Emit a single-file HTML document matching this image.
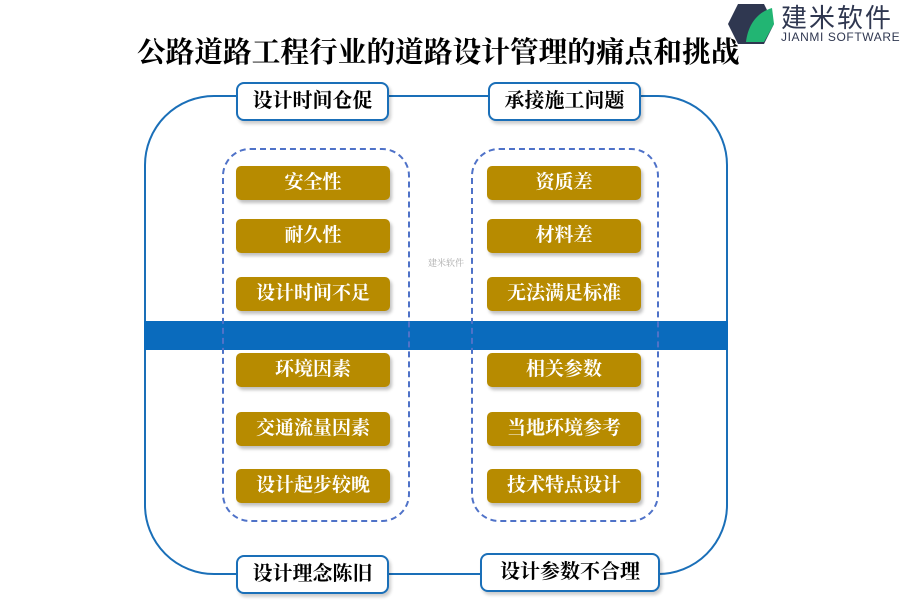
<!DOCTYPE html>
<html><head><meta charset="utf-8"><style>
body{margin:0;width:900px;height:600px;background:#fff;position:relative;overflow:hidden;font-family:"Liberation Serif","Noto Serif CJK SC",serif;}
.a{position:absolute;box-sizing:border-box;}
.g{background:#b78b00;color:#fff;font-weight:bold;font-size:19px;text-align:center;line-height:34px;height:34px;width:154px;border-radius:5px;box-shadow:2px 3px 3px rgba(0,0,0,.25);}
.l{background:#fff;border:2.5px solid #1a6fb8;border-radius:8px;font-size:20px;font-weight:bold;text-align:center;line-height:34px;height:39px;box-shadow:2px 3px 3px rgba(0,0,0,.2);}
</style></head><body>
<div class="a" style="left:137px;top:30px;font-size:28.7px;font-weight:bold;white-space:nowrap;">公路道路工程行业的道路设计管理的痛点和挑战</div>
<svg class="a" style="left:724px;top:2px" width="60" height="44"><polygon points="14,2 40,2 50,22 40,42 14,42 4,22" fill="#2f3750"/><path d="M22,40 C24,22 34,10 48,6 L50,22 40,40 Z" fill="#22b573"/></svg>
<div class="a" style="left:781px;top:-2px;font-size:26px;color:#2f3750;font-family:'Noto Sans CJK SC',sans-serif;letter-spacing:2px;white-space:nowrap;">建米软件</div>
<div class="a" style="left:781px;top:30px;width:120px;font-size:12px;color:#2f3750;font-family:'Liberation Sans',sans-serif;letter-spacing:.6px;white-space:nowrap;">JIANMI SOFTWARE</div>
<div class="a" style="left:144px;top:95px;width:584px;height:480px;border:2.5px solid #1a6fb8;border-radius:70px;"></div>
<div class="a" style="left:144px;top:321px;width:584px;height:29px;background:#0a6bbd;"></div>
<div class="a" style="left:222px;top:148px;width:188px;height:374px;border:2.5px dashed #4f72c8;border-radius:28px;"></div>
<div class="a" style="left:471px;top:148px;width:188px;height:374px;border:2.5px dashed #4f72c8;border-radius:28px;"></div>
<div class="a g" style="left:236px;top:166px">安全性</div>
<div class="a g" style="left:236px;top:219px">耐久性</div>
<div class="a g" style="left:236px;top:277px">设计时间不足</div>
<div class="a g" style="left:236px;top:353px">环境因素</div>
<div class="a g" style="left:236px;top:412px">交通流量因素</div>
<div class="a g" style="left:236px;top:469px">设计起步较晚</div>
<div class="a g" style="left:487px;top:166px">资质差</div>
<div class="a g" style="left:487px;top:219px">材料差</div>
<div class="a g" style="left:487px;top:277px">无法满足标准</div>
<div class="a g" style="left:487px;top:353px">相关参数</div>
<div class="a g" style="left:487px;top:412px">当地环境参考</div>
<div class="a g" style="left:487px;top:469px">技术特点设计</div>
<div class="a l" style="left:236px;top:82px;width:153px">设计时间仓促</div>
<div class="a l" style="left:488px;top:82px;width:153px">承接施工问题</div>
<div class="a l" style="left:236px;top:555px;width:153px">设计理念陈旧</div>
<div class="a l" style="left:480px;top:553px;width:180px">设计参数不合理</div>
<div class="a" style="left:428px;top:256px;font-size:9px;color:#aaa;">建米软件</div>
</body></html>
